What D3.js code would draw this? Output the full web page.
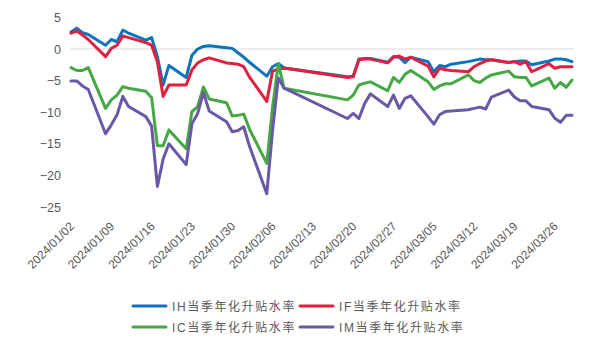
<!DOCTYPE html>
<html><head><meta charset="utf-8">
<script src="https://cdn.jsdelivr.net/npm/d3@7"></script>
<style>
html,body{margin:0;padding:0;background:#fff;}
svg{display:block;font-family:"Liberation Sans","Noto Sans CJK SC",sans-serif;}
</style></head>
<body><svg id="c" width="589" height="350"></svg>
<script>
const dates = ["2024-01-02","2024-01-03","2024-01-04","2024-01-05","2024-01-08","2024-01-09","2024-01-10","2024-01-11","2024-01-12","2024-01-15","2024-01-16","2024-01-17","2024-01-18","2024-01-19","2024-01-22","2024-01-23","2024-01-24","2024-01-25","2024-01-26","2024-01-29","2024-01-30","2024-01-31","2024-02-01","2024-02-02","2024-02-05","2024-02-06","2024-02-07","2024-02-08","2024-02-19","2024-02-20","2024-02-21","2024-02-22","2024-02-23","2024-02-26","2024-02-27","2024-02-28","2024-02-29","2024-03-01","2024-03-04","2024-03-05","2024-03-06","2024-03-07","2024-03-08","2024-03-11","2024-03-12","2024-03-13","2024-03-14","2024-03-15","2024-03-18","2024-03-19","2024-03-20","2024-03-21","2024-03-22","2024-03-25","2024-03-26","2024-03-27","2024-03-28","2024-03-29"];

const seriesIH = [2.7,3.3,2.6,2.3,0.6,1.5,1.15,3.0,2.5,1.4,1.8,-1.2,-5.7,-2.6,-4.5,-1.0,0.0,0.4,0.5,0.2,0.1,-0.6,-1.3,-2.1,-4.3,-2.8,-2.3,-3.0,-4.4,-4.3,-1.6,-1.5,-1.5,-2.1,-1.2,-1.3,-2.15,-1.3,-2.0,-3.6,-2.6,-2.8,-2.4,-2.0,-1.8,-1.6,-1.7,-1.7,-2.15,-2.0,-1.9,-1.9,-2.5,-1.9,-1.6,-1.6,-1.7,-2.0];
const seriesIF = [2.5,2.85,2.2,1.5,-1.2,0.1,0.6,2.05,1.8,1.0,0.6,-2.0,-7.5,-5.7,-5.7,-3.3,-2.2,-1.7,-1.4,-2.2,-2.3,-2.4,-2.8,-4.45,-8.3,-3.5,-3.2,-3.0,-4.5,-4.4,-1.7,-1.6,-1.6,-2.2,-1.3,-1.1,-1.6,-1.3,-2.7,-4.4,-3.05,-3.3,-3.4,-3.6,-2.8,-2.3,-1.9,-1.7,-2.15,-2.0,-2.4,-2.0,-3.6,-2.3,-3.05,-2.8,-2.8,-2.8];
const seriesIC = [-2.95,-3.4,-3.4,-2.95,-9.4,-8.05,-7.3,-5.95,-6.2,-6.7,-7.7,-15.3,-15.3,-12.8,-15.8,-9.9,-9.1,-6.0,-7.9,-8.5,-10.6,-10.5,-10.3,-12.7,-18.1,-9.2,-2.3,-6.2,-8.05,-7.3,-5.7,-5.4,-5.2,-6.6,-4.5,-5.3,-4.0,-3.4,-5.2,-6.4,-5.85,-5.5,-5.5,-4.1,-5.0,-5.3,-4.6,-4.1,-3.5,-4.4,-4.5,-4.5,-5.85,-4.6,-6.2,-5.3,-6.05,-4.9];
const seriesIM = [-5.05,-5.05,-5.85,-6.4,-13.4,-12.0,-10.4,-7.5,-9.1,-10.7,-12.2,-21.75,-17.4,-15.0,-18.3,-11.85,-10.2,-6.9,-9.8,-11.5,-13.1,-12.9,-12.3,-15.4,-22.9,-12.9,-4.6,-6.2,-11.0,-10.2,-11.0,-8.6,-7.1,-9.1,-7.3,-9.4,-7.8,-7.4,-10.7,-11.9,-10.4,-9.9,-9.8,-9.6,-9.4,-9.2,-9.5,-7.6,-6.5,-7.6,-8.2,-8.2,-9.1,-9.6,-10.95,-11.6,-10.5,-10.5];

const seriesNames = ["IH当季年化升贴水率","IF当季年化升贴水率","IC当季年化升贴水率","IM当季年化升贴水率"];
const seriesColors = ["#0a74bd","#e0203e","#45a845","#6a58a6"];
const yTicks = [5,0,-5,-10,-15,-20,-25];
const xTickLabels = ["2024/01/02","2024/01/09","2024/01/16","2024/01/23","2024/01/30","2024/02/06","2024/02/13","2024/02/20","2024/02/27","2024/03/05","2024/03/12","2024/03/19","2024/03/26"];

const parse = d3.timeParse("%Y-%m-%d");
const parseSlash = d3.timeParse("%Y/%m/%d");
const svg = d3.select("#c");

const x = d3.scaleTime().domain([parse("2024-01-02"), parse("2024-03-29")]).range([71, 572]);
const y = d3.scaleLinear().domain([-25, 5]).range([207, 17.4]);

// zero line
svg.append("line").attr("x1", 70).attr("x2", 574).attr("y1", y(0)).attr("y2", y(0))
  .attr("stroke", "#d9d9d9").attr("stroke-width", 1);

// y axis labels
const yAxis = d3.axisLeft(y).tickValues(yTicks).tickSize(0).tickPadding(0)
  .tickFormat(d => d < 0 ? "\u2212" + Math.abs(d) : String(d));
const gy = svg.append("g").attr("transform", "translate(61,0)").call(yAxis);
gy.select(".domain").remove();
gy.selectAll("text").attr("font-size", 12.5).attr("fill", "#595959")
  .attr("font-family", "Liberation Sans, Arial, sans-serif");

// x axis labels
const xAxis = d3.axisBottom(x).tickValues(xTickLabels.map(parseSlash)).tickSize(0)
  .tickFormat(d3.timeFormat("%Y/%m/%d"));
const gx = svg.append("g").call(xAxis);
gx.select(".domain").remove();
gx.selectAll(".tick").attr("transform", d => `translate(${x(d) + 4},227)`);
gx.selectAll("text").attr("transform", "rotate(-45)").attr("text-anchor", "end")
  .attr("x", 0).attr("y", 0).attr("dy", 0)
  .attr("font-size", 12).attr("fill", "#595959")
  .attr("font-family", "Liberation Sans, Arial, sans-serif");

// lines (drawn in series order, later series on top)
const allSeries = [seriesIH, seriesIF, seriesIC, seriesIM];
const line = d3.line().x(d => x(d.date)).y(d => y(d.v));
[0, 1, 2, 3].forEach(i => {
  const data = dates.map((d, k) => ({date: parse(d), v: allSeries[i][k]}));
  svg.append("path").datum(data).attr("d", line)
    .attr("fill", "none").attr("stroke", seriesColors[i]).attr("stroke-width", 3)
    .attr("stroke-linejoin", "round").attr("stroke-linecap", "round");
});

// legend
const legPos = [[133, 306], [300, 306], [133, 327], [300, 327]];
seriesNames.forEach((n, i) => {
  const [lx, ly] = legPos[i];
  const g = svg.append("g");
  g.append("line").attr("x1", lx).attr("x2", lx + 33).attr("y1", ly).attr("y2", ly)
    .attr("stroke", seriesColors[i]).attr("stroke-width", 3).attr("stroke-linecap", "round");
  g.append("text").attr("x", lx + 39).attr("y", ly + 4.5).text(n)
    .attr("font-size", 12).attr("fill", "#595959").attr("letter-spacing", "1.6px")
    .attr("font-family", "Liberation Sans, Noto Sans CJK SC, sans-serif");
});
</script></body></html>
